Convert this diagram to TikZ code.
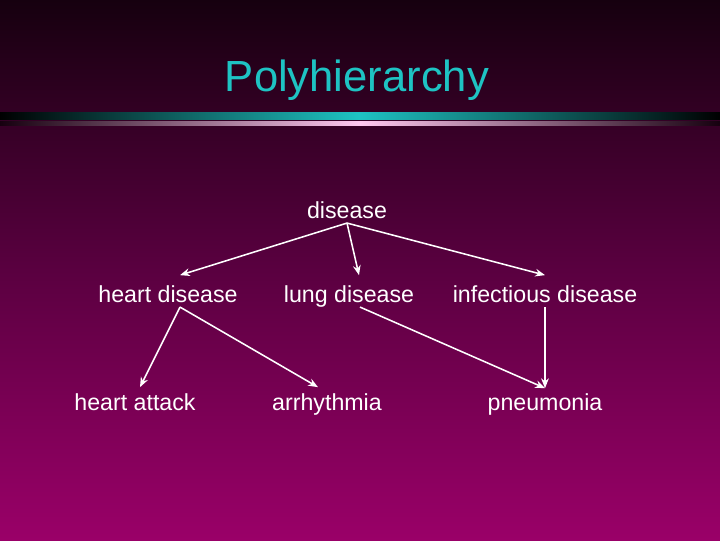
\documentclass[tikz,border=0pt]{standalone}
\usepackage{fontspec}
\setmainfont{Liberation Sans}
\usetikzlibrary{arrows.meta}
\definecolor{bgtop}{HTML}{16000F}
\definecolor{bgmid}{HTML}{5A0040}
\definecolor{bgbot}{HTML}{9A0068}
\definecolor{titlecol}{HTML}{1EC3C3}
\definecolor{barpink}{HTML}{FFC8F0}
\tikzset{
  term/.style={text=white, anchor=base, inner xsep=2pt, inner ysep=3pt,
    text height=35pt, text depth=4pt, font=\fontsize{33}{36}\selectfont},
  link/.style={draw=white, line width=2.2pt, -{Stealth[length=14pt,width=11pt]}}
}
\begin{document}
\begin{tikzpicture}[x=0.5mm, y=-0.5mm]
	  \useasboundingbox (0,0) rectangle (720,540);
		\shade[top color=bgtop, bottom color=bgbot, middle color=bgmid] (0,0) rectangle (720,540);
		% title bar
		\shade[left color=black, right color=titlecol] (0,112) rectangle (360,119);
		\shade[left color=titlecol, right color=black] (360,112) rectangle (720,119);
		\shade[left color=bgtop, right color=barpink] (0,121) rectangle (360,125);
		\shade[left color=barpink, right color=bgtop] (360,121) rectangle (720,125);
		\node[text=titlecol, font=\fontsize{62}{66}\selectfont] (title) at (357,80) {Polyhierarchy};
		% terms
		\node[term] (dis) at (347,218) {disease};
		\node[term] (hd) at (168,302) {heart disease};
		\node[term] (ld) at (349,302) {lung disease};
		\node[term] (id) at (545,302) {infectious disease};
		\node[term] (ha) at (135,410) {heart attack};
		\node[term] (ar) at (327,410) {arrhythmia};
		\node[term] (pn) at (545,410) {pneumonia};
		% links
		\draw[link] (dis.south) -- ([xshift=12*0.5mm]hd.north);
		\draw[link] (dis.south) -- ([xshift=10*0.5mm]ld.north);
		\draw[link] (dis.south) -- (id.north);
		\draw[link] ([xshift=12*0.5mm]hd.south) -- ([xshift=5*0.5mm, yshift=-4*0.5mm]ha.north);
		\draw[link] ([xshift=12*0.5mm]hd.south) -- ([xshift=-9*0.5mm, yshift=-4*0.5mm]ar.north);
		\draw[link] ([xshift=11*0.5mm]ld.south) -- ([yshift=-5*0.5mm]pn.north);
		\draw[link] (id.south) -- ([yshift=-5*0.5mm]pn.north);
\end{tikzpicture}
\end{document}
